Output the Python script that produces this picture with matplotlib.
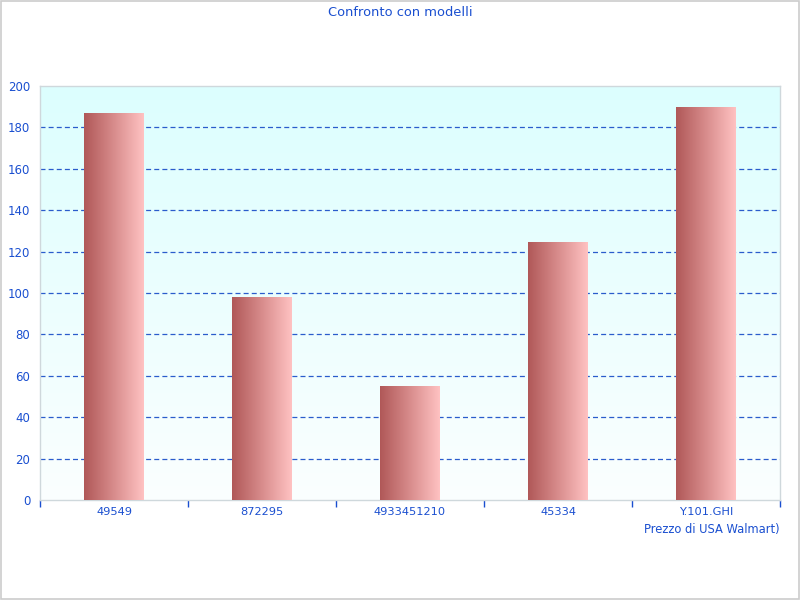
import matplotlib
matplotlib.use("Agg")
import matplotlib.pyplot as plt
import numpy as np
from matplotlib.colors import LinearSegmentedColormap
from matplotlib.patches import Rectangle

categories = ["49549", "872295", "4933451210", "45334", "Y.101.GHI"]
values = [187, 98, 55, 124.5, 190]
title = "Confronto con modelli"
xlabel = "Prezzo di USA Walmart)"

txt = "#1a4fd0"
fig = plt.figure(figsize=(8, 6), dpi=100)
fig.patch.set_facecolor("white")
fig.add_artist(Rectangle((0.001, 0.001), 0.998, 0.997, transform=fig.transFigure,
                         fill=False, edgecolor="#cccccc", linewidth=1.2))
ax = fig.add_axes([0.05, 1 - 500/600, 0.925, (500 - 86)/600])

n = len(categories)

# background gradient
bg = LinearSegmentedColormap.from_list("bg", ["#fbfefe", "#dcffff"])
grad = np.linspace(0, 1, 256).reshape(-1, 1)
ax.imshow(grad, cmap=bg, aspect="auto", extent=[-0.5, n - 0.5, 0, 200],
          origin="lower", zorder=0)

# grid
for yv in range(20, 200, 20):
    ax.axhline(yv, color="#2a5ccc", linestyle=(0, (4, 2.5)), linewidth=0.9, zorder=1)

barcmap = LinearSegmentedColormap.from_list("bar", ["#b05858", "#d88c8c", "#ffc2c2"])
hgrad = np.linspace(0, 1, 256).reshape(1, -1)
w = 0.405
bars = ax.bar(range(n), values, width=w, color="none", edgecolor="none", zorder=2)
for b in bars:
    x0 = b.get_x(); h = b.get_height()
    im = ax.imshow(hgrad, cmap=barcmap, aspect="auto",
                   extent=[x0, x0 + w, 0, h], zorder=3)
    im.set_clip_path(b)

ax.set_xlim(-0.5, n - 0.5)
ax.set_ylim(0, 200)

for s in ax.spines.values():
    s.set_color("#cfd8dc")
    s.set_linewidth(1)

ax.set_yticks(range(0, 201, 20))
ax.tick_params(axis="y", length=0, colors=txt, labelsize=8.5, pad=7)
ax.set_xticks(range(n))
ax.set_xticklabels(categories)
ax.tick_params(axis="x", length=0, colors=txt, labelsize=8.2, pad=5)
ax.set_xticks(np.arange(-0.5, n, 1), minor=True)
ax.tick_params(axis="x", which="minor", length=5, color=txt, width=1)

ax.set_xlabel(xlabel, color=txt, fontsize=8.3, loc="right", labelpad=4)
fig.text(0.5, 1 - 12/600, title, color=txt, fontsize=9.4, ha="center", va="center")

fig.savefig("out.png", dpi=100)
